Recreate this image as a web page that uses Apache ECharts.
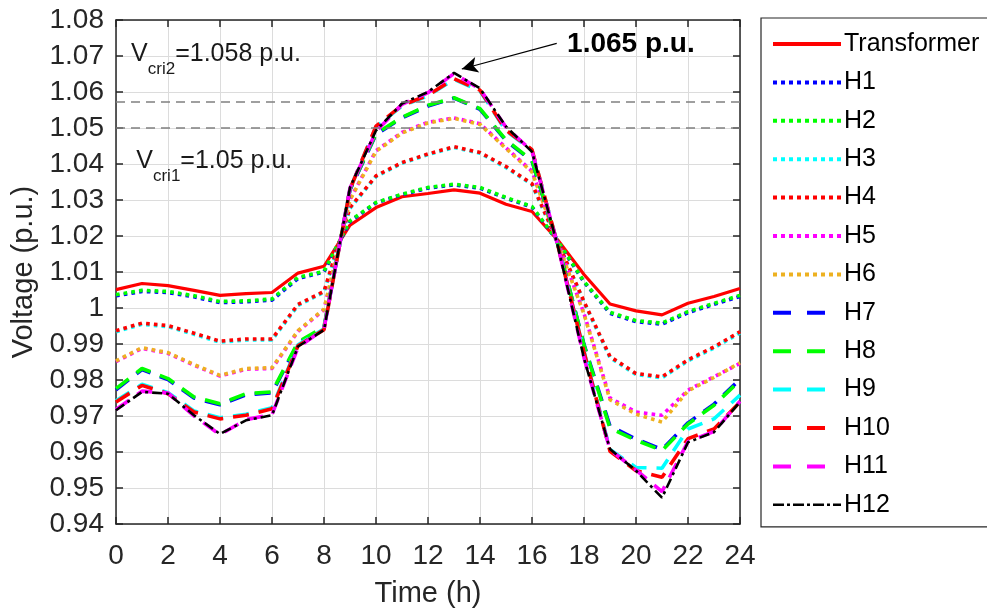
<!DOCTYPE html>
<html>
<head>
<meta charset="utf-8">
<script src="https://cdn.jsdelivr.net/npm/echarts@6/dist/echarts.min.js"></script>
<style>
html,body{margin:0;padding:0;background:#fff;}
#chart{width:987px;height:609px;}
</style>
</head>
<body>
<div id="chart"></div>
<script>
const hours = [0,1,2,3,4,5,6,7,8,9,10,11,12,13,14,15,16,17,18,19,20,21,22,23,24];
const seriesNames = ['Transformer','H1','H2','H3','H4','H5','H6','H7','H8','H9','H10','H11','H12'];
const transformer = [1.0051,1.0068,1.0062,1.0049,1.0035,1.0040,1.0043,1.0097,1.0116,1.0230,1.0279,1.0309,1.0318,1.0328,1.0319,1.0288,1.0268,1.0188,1.0093,1.0011,0.9992,0.9981,1.0013,1.0032,1.0054];
const h1  = [1.0034,1.0046,1.0043,1.0031,1.0015,1.0017,1.0022,1.0082,1.0100,1.0240,1.0292,1.0315,1.0333,1.0342,1.0333,1.0305,1.0280,1.0184,1.0072,0.9985,0.9962,0.9955,0.9987,1.0010,1.0032];
const h2  = [1.0037,1.0049,1.0046,1.0034,1.0018,1.0020,1.0025,1.0085,1.0102,1.0242,1.0293,1.0316,1.0335,1.0344,1.0335,1.0307,1.0282,1.0185,1.0074,0.9988,0.9965,0.9958,0.9990,1.0013,1.0035];
const h3  = [0.9934,0.9955,0.9948,0.9927,0.9905,0.9911,0.9911,1.0007,1.0044,1.0277,1.0365,1.0402,1.0426,1.0446,1.0430,1.0390,1.0343,1.0181,1.0016,0.9862,0.9815,0.9806,0.9853,0.9889,0.9931];
const h4  = [0.9937,0.9958,0.9951,0.9930,0.9908,0.9914,0.9914,1.0010,1.0046,1.0279,1.0367,1.0404,1.0428,1.0448,1.0432,1.0393,1.0345,1.0182,1.0018,0.9865,0.9818,0.9809,0.9856,0.9892,0.9934];
const h5  = [0.9851,0.9888,0.9874,0.9841,0.9811,0.9830,0.9832,0.9935,0.9995,1.0302,1.0437,1.0488,1.0516,1.0528,1.0512,1.0445,1.0380,1.0180,0.9985,0.9750,0.9711,0.9702,0.9772,0.9809,0.9846];
const h6  = [0.9853,0.9890,0.9876,0.9843,0.9813,0.9832,0.9834,0.9937,0.9997,1.0300,1.0435,1.0486,1.0514,1.0527,1.0510,1.0443,1.0378,1.0179,0.9983,0.9745,0.9705,0.9683,0.9770,0.9807,0.9848];
const h7  = [0.9773,0.9829,0.9801,0.9750,0.9731,0.9759,0.9764,0.9902,0.9945,1.0328,1.0482,1.0528,1.0561,1.0583,1.0552,1.0465,1.0408,1.0175,0.9899,0.9672,0.9636,0.9607,0.9681,0.9733,0.9802];
const h8  = [0.9776,0.9832,0.9804,0.9753,0.9734,0.9762,0.9767,0.9905,0.9948,1.0330,1.0484,1.0530,1.0563,1.0584,1.0554,1.0467,1.0410,1.0175,0.9897,0.9666,0.9633,0.9604,0.9678,0.9730,0.9799];
const h9  = [0.9742,0.9788,0.9765,0.9714,0.9695,0.9705,0.9723,0.9898,0.9942,1.0331,1.0503,1.0561,1.0589,1.0635,1.0603,1.0492,1.0438,1.0173,0.9880,0.9607,0.9557,0.9555,0.9664,0.9692,0.9758];
const h10 = [0.9739,0.9785,0.9762,0.9711,0.9692,0.9702,0.9720,0.9895,0.9940,1.0330,1.0505,1.0563,1.0591,1.0637,1.0605,1.0494,1.0440,1.0172,0.9878,0.9602,0.9548,0.9530,0.9637,0.9664,0.9739];
const h11 = [0.9718,0.9769,0.9764,0.9700,0.9648,0.9690,0.9704,0.9890,0.9942,1.0333,1.0490,1.0566,1.0598,1.0651,1.0608,1.0502,1.0436,1.0171,0.9862,0.9606,0.9550,0.9490,0.9629,0.9657,0.9741];
const h12 = [0.9716,0.9767,0.9762,0.9702,0.9650,0.9688,0.9702,0.9893,0.9939,1.0335,1.0493,1.0568,1.0600,1.0653,1.0610,1.0504,1.0434,1.0170,0.9860,0.9608,0.9548,0.9473,0.9627,0.9655,0.9739];
const thresholdLines = [1.0573, 1.05];
const peakValue = 1.065;

const allData = [transformer,h1,h2,h3,h4,h5,h6,h7,h8,h9,h10,h11,h12];
const colors = ['#FF0000','#0000FF','#00FF00','#00FFFF','#FF0000','#FF00FF','#EDB120','#0000FF','#00FF00','#00FFFF','#FF0000','#FF00FF','#000000'];
const styles = ['solid','dot','dot','dot','dot','dot','dot','dash','dash','dash','dash','dash','dashdot'];
const FONT = '"Liberation Sans", Arial, Helvetica, sans-serif';

function lineStyleFor(kind, color){
  if(kind==='solid') return {color, width:3.2, type:'solid', cap:'butt'};
  if(kind==='dot') return {color, width:3.6, type:[3.6,4.2], cap:'butt'};
  if(kind==='dash') return {color, width:3.6, type:[16,10], cap:'butt'};
  return {color, width:2.6, type:[10,4,3,4], cap:'butt'};
}
function legendLineFor(kind, color){
  if(kind==='solid') return {color, width:4, type:'solid', cap:'butt'};
  if(kind==='dot') return {color, width:4, type:[4,4], cap:'butt'};
  if(kind==='dash') return {color, width:4, type:[18,16], cap:'butt'};
  return {color, width:2.4, type:[11,3,3,3], cap:'butt'};
}

const series = seriesNames.map((name,i)=>({
  name, type:'line', showSymbol:false, symbol:'none', animation:false,
  data: hours.map((h,j)=>[h, allData[i][j]]),
  lineStyle: lineStyleFor(styles[i], colors[i]),
  itemStyle: {color: colors[i]},
  emphasis: {disabled:true}
}));

const subRich = {
  v:{fontSize:25, fontFamily:FONT, color:'#1a1a1a', verticalAlign:'top', lineHeight:36},
  s:{fontSize:17, fontFamily:FONT, color:'#1a1a1a', verticalAlign:'bottom', lineHeight:36}
};

series.push({
  name:'annot', type:'line', data:[], animation:false, silent:true,
  markLine:{
    silent:true, animation:false,
    symbol:['none','none'],
    label:{show:false},
    lineStyle:{color:'#808080', width:1.6, type:[9,6]},
    data: thresholdLines.map(v=>[{coord:[0,v]},{coord:[24,v]}])
  },
  markPoint:{
    silent:true, animation:false,
    data:[
      {coord:[0.58,1.0689], symbol:'circle', symbolSize:0,
       label:{show:true, position:'right', distance:0, formatter:'{v|V}{s|cri2}{v|=1.058 p.u.}', rich:subRich}},
      {coord:[0.78,1.0392], symbol:'circle', symbolSize:0,
       label:{show:true, position:'right', distance:0, formatter:'{v|V}{s|cri1}{v|=1.05 p.u.}', rich:subRich}},
      {coord:[17.35,1.0733], symbol:'circle', symbolSize:0,
       label:{show:true, position:'right', distance:0, formatter: peakValue.toFixed(3)+' p.u.',
              fontSize:28, fontWeight:'bold', fontFamily:FONT, color:'#000'}}
    ]
  }
});
series.push({
  name:'arrow', type:'line', data:[], animation:false, silent:true,
  markLine:{
    silent:true, animation:false,
    symbol:['none','arrow'], symbolSize:[12,16],
    label:{show:false},
    lineStyle:{color:'#000', width:1.2, type:'solid'},
    data:[[{coord:[16.95,1.0735]},{coord:[13.3,1.0664]}]]
  }
});

const axisColor = '#262626';
const option = {
  backgroundColor:'#fff',
  animation:false,
  textStyle:{fontFamily:FONT},
  grid:{left:116, right:247, top:20, bottom:85, containLabel:false, outerBoundsMode:'none'},
  legend:{
    data: seriesNames.map((name,i)=>({name, lineStyle: legendLineFor(styles[i], colors[i])})),
    orient:'vertical', left:761, top:18,
    padding:[13,30,9,10],
    itemWidth:68, itemHeight:2, itemGap:12.4,
    itemStyle:{opacity:0, borderWidth:0},
    borderColor:'#262626', borderWidth:1.2,
    backgroundColor:'#fff',
    textStyle:{fontSize:25, fontFamily:FONT, color:'#000', lineHeight:26, padding:[0,0,0,-2]},
    selectedMode:false
  },
  xAxis:[{
    type:'value', min:0, max:24, interval:2,
    name:'Time (h)', nameLocation:'middle', nameGap:55,
    nameTextStyle:{fontSize:29, color:axisColor, fontFamily:FONT},
    axisLine:{show:true, lineStyle:{color:axisColor, width:1.5}},
    axisTick:{show:true, inside:true, length:7, lineStyle:{color:axisColor, width:1.5}},
    axisLabel:{fontSize:28, color:axisColor, margin:18, fontFamily:FONT},
    splitLine:{show:true, lineStyle:{color:'#dcdcdc', width:1}}
  },{
    type:'value', min:0, max:24, interval:2, position:'top',
    axisLine:{show:true, onZero:false, lineStyle:{color:axisColor, width:1.5}},
    axisTick:{show:true, inside:true, length:7, lineStyle:{color:axisColor, width:1.5}},
    axisLabel:{show:false}, splitLine:{show:false}
  }],
  yAxis:[{
    type:'value', min:0.94, max:1.08, interval:0.01,
    name:'Voltage (p.u.)', nameLocation:'middle', nameGap:71, nameRotate:90,
    nameTextStyle:{fontSize:29, color:axisColor, fontFamily:FONT},
    axisLine:{show:true, lineStyle:{color:axisColor, width:1.5}},
    axisTick:{show:true, inside:true, length:7, lineStyle:{color:axisColor, width:1.5}},
    axisLabel:{fontSize:28, color:axisColor, margin:12, fontFamily:FONT,
      formatter:v=>String(parseFloat(v.toFixed(2)))},
    splitLine:{show:true, lineStyle:{color:'#dcdcdc', width:1}}
  },{
    type:'value', min:0.94, max:1.08, interval:0.01, position:'right',
    axisLine:{show:true, onZero:false, lineStyle:{color:axisColor, width:1.5}},
    axisTick:{show:true, inside:true, length:7, lineStyle:{color:axisColor, width:1.5}},
    axisLabel:{show:false}, splitLine:{show:false}
  }],
  series
};
const chart = echarts.init(document.getElementById('chart'), null, {renderer:'canvas'});
chart.setOption(option);
</script>
</body>
</html>
